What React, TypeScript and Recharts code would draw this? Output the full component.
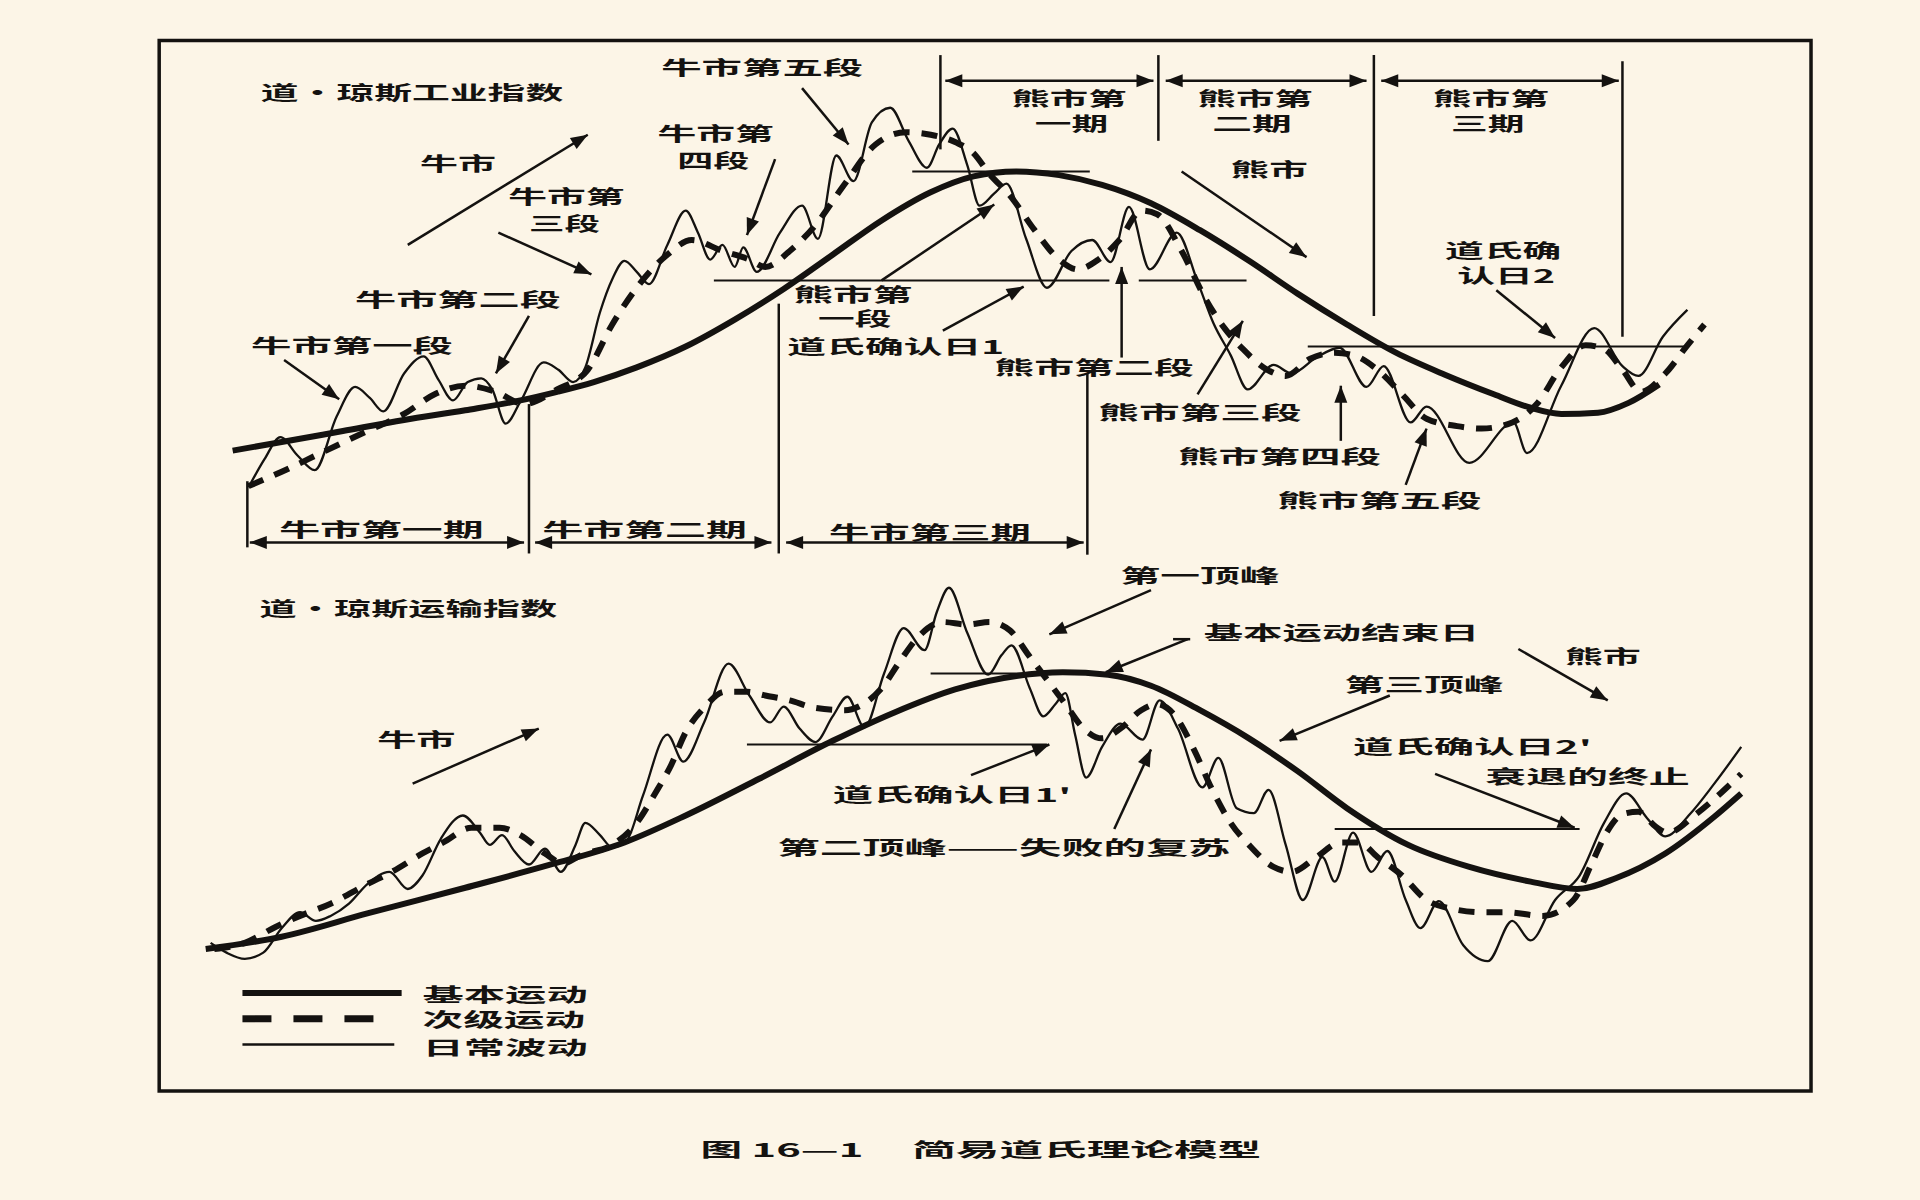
import React from "react";
import {
  ComposedChart,
  Line,
  XAxis,
  YAxis,
  ReferenceLine,
  ReferenceArea,
  ReferenceDot,
} from "recharts";

// time (t) and index level (p), in picture units
const industrialPrimary = [
  [190, 612], [230, 619], [280, 628], [330, 637], [380, 645], [425, 653],
  [455, 660], [485, 668], [520, 680], [560, 697], [600, 719], [640, 744],
  [680, 772], [720, 800], [760, 823], [795, 836], [830, 840], [865, 837],
  [900, 829], [940, 814], [980, 792], [1020, 767], [1060, 740], [1100, 715],
  [1140, 692], [1180, 674], [1220, 658], [1250, 647], [1275, 642],
  [1305, 643], [1330, 651], [1355, 666],
];

const industrialSecondary = [
  [203, 583], [235, 597], [262, 610], [300, 628], [330, 642], [355, 658],
  [380, 665], [405, 660], [428, 650], [455, 662], [480, 678], [500, 715],
  [520, 745], [545, 772], [565, 784], [590, 775], [612, 768], [625, 762],
  [645, 775], [665, 795], [690, 830], [715, 862], [740, 872], [760, 870],
  [780, 864], [795, 855], [808, 838], [825, 820], [845, 792], [865, 768],
  [880, 760], [897, 768], [915, 785], [932, 808], [945, 805], [965, 775],
  [985, 735], [1000, 712], [1015, 695], [1035, 678], [1050, 673],
  [1070, 687], [1090, 692], [1105, 690], [1125, 678], [1145, 658],
  [1165, 638], [1190, 632], [1210, 630], [1235, 635], [1255, 650],
  [1275, 680], [1295, 698], [1310, 695], [1325, 678], [1340, 660],
  [1360, 675], [1378, 698], [1392, 715],
];

const industrialDaily = [
  [203, 582], [216, 605], [229, 623], [243, 608], [257, 596], [275, 640],
  [290, 664], [302, 655], [313, 644], [330, 675], [346, 689], [358, 670],
  [370, 653], [382, 668], [393, 671], [402, 662], [413, 634], [425, 652],
  [444, 684], [456, 678], [468, 668], [478, 680], [490, 725], [500, 752],
  [510, 767], [520, 758], [530, 748], [545, 780], [560, 808], [570, 790],
  [580, 768], [590, 780], [600, 762], [607, 778], [618, 758], [637, 790],
  [655, 812], [668, 785], [683, 853], [697, 832], [712, 880], [727, 892],
  [742, 865], [757, 843], [767, 862], [778, 875], [790, 845], [800, 812],
  [812, 822], [822, 830], [838, 785], [855, 745], [875, 775], [892, 784],
  [907, 766], [922, 811], [939, 760], [961, 790], [978, 750], [991, 716],
  [1005, 690], [1019, 662], [1040, 682], [1055, 675], [1075, 688],
  [1094, 696], [1116, 664], [1130, 681], [1152, 635], [1165, 648],
  [1200, 602], [1236, 635], [1247, 610], [1275, 665], [1302, 712],
  [1325, 681], [1338, 673], [1358, 705], [1378, 727],
];

const transportPrimary = [
  [168, 205], [230, 215], [300, 234], [380, 255], [450, 274], [510, 292],
  [560, 314], [620, 344], [680, 375], [730, 398], [780, 417], [830, 428],
  [868, 431], [905, 429], [940, 420], [980, 400], [1020, 377], [1060, 350],
  [1100, 320], [1150, 290], [1200, 272], [1250, 260], [1288, 254],
  [1320, 263], [1360, 283], [1400, 313], [1422, 332],
];

const transportSecondary = [
  [175, 205], [200, 210], [225, 223], [245, 232], [270, 242], [300, 258],
  [320, 268], [345, 283], [362, 292], [385, 304], [408, 304], [425, 298],
  [445, 283], [460, 275], [475, 282], [500, 290], [520, 308], [535, 332],
  [548, 355], [560, 382], [575, 402], [592, 415], [610, 415], [625, 412],
  [645, 408], [665, 402], [690, 400], [705, 405], [720, 418], [735, 440],
  [750, 460], [770, 472], [790, 470], [808, 472], [825, 465], [840, 445],
  [855, 425], [870, 405], [885, 385], [900, 377], [915, 385], [932, 400],
  [945, 405], [960, 395], [975, 368], [990, 335], [1005, 308], [1020, 290],
  [1040, 272], [1055, 268], [1075, 280], [1095, 292], [1110, 292],
  [1125, 280], [1145, 265], [1165, 245], [1190, 237], [1210, 235],
  [1230, 235], [1260, 232], [1285, 245], [1300, 275], [1312, 300],
  [1325, 315], [1338, 317], [1352, 305], [1362, 300], [1385, 315],
  [1405, 332], [1422, 348],
];

const transportDaily = [
  [172, 210], [185, 202], [200, 197], [215, 202], [230, 222], [245, 235],
  [258, 228], [270, 232], [285, 242], [300, 258], [318, 268], [333, 254],
  [345, 265], [360, 295], [378, 314], [392, 300], [400, 290], [410, 298],
  [420, 285], [432, 274], [445, 287], [458, 268], [470, 290], [478, 308],
  [490, 298], [500, 288], [512, 294], [525, 330], [545, 380], [558, 358],
  [575, 390], [595, 438], [612, 412], [629, 390], [640, 403], [653, 385],
  [666, 374], [680, 395], [692, 411], [706, 386], [722, 430], [738, 467],
  [755, 449], [765, 480], [775, 500], [790, 463], [807, 429], [818, 445],
  [826, 453], [841, 418], [852, 395], [862, 405], [870, 414], [878, 380],
  [887, 345], [900, 370], [915, 389], [933, 376], [947, 408], [962, 385],
  [982, 337], [995, 361], [1010, 320], [1024, 316], [1036, 335],
  [1050, 290], [1064, 245], [1080, 280], [1090, 260], [1105, 300],
  [1120, 268], [1133, 285], [1148, 245], [1160, 222], [1175, 244],
  [1195, 208], [1215, 195], [1235, 228], [1250, 212], [1270, 245],
  [1290, 265], [1310, 308], [1328, 332], [1345, 312], [1360, 297],
  [1380, 315], [1400, 340], [1422, 370],
];

// annotation geometry [t1, p1, t2, p2]
const pointerArrows = [
  [333, 780, 480, 870], [655, 908, 693, 862], [633, 850, 610, 788],
  [407, 790, 483, 756], [432, 722, 405, 675], [232, 686, 277, 654],
  [965, 840, 1067, 770], [720, 751, 812, 813], [770, 710, 836, 746],
  [916, 688, 916, 762], [978, 658, 1015, 718], [1095, 620, 1095, 665],
  [1148, 584, 1165, 630], [1222, 743, 1270, 704],
  [337, 340, 440, 385], [940, 498, 857, 462], [970, 458, 903, 431],
  [1240, 450, 1313, 408], [1135, 412, 1045, 375], [1172, 348, 1286, 304],
  [793, 347, 857, 372], [910, 303, 940, 368],
];

const spanArrows = [
  [772, 914, 942, 914], [952, 914, 1116, 914], [1128, 914, 1322, 914],
  [204, 537, 428, 537], [437, 537, 630, 537], [642, 537, 885, 537],
];

const dividers = [
  [768, 935, 768, 858], [946, 935, 946, 865], [1122, 935, 1122, 722],
  [1325, 930, 1325, 705], [202, 587, 202, 533], [432, 650, 432, 528],
  [636, 732, 636, 528], [888, 675, 888, 527], [958, 458, 972, 458],
];

const levelLines = [
  [745, 840, 890, 840], [583, 751, 906, 751], [930, 751, 1018, 751],
  [1068, 697, 1378, 697], [760, 430, 905, 430], [610, 372, 855, 372],
  [1090, 303, 1290, 303],
];

// label text, left t, p, width in picture units
const labels: [string, number, number, number][] = [
  ["道·琼斯工业指数", 213, 905, 247],
  ["牛市第五段", 540, 926, 165],
  ["牛市第", 537, 872, 95],
  ["四段", 553, 850, 59],
  ["牛市", 343, 847, 62],
  ["牛市第", 415, 820, 95],
  ["三段", 432, 798, 58],
  ["牛市第二段", 290, 736, 168],
  ["牛市第一段", 205, 699, 165],
  ["熊市第", 826, 900, 94],
  ["一期", 845, 880, 60],
  ["熊市第", 978, 900, 94],
  ["二期", 990, 880, 65],
  ["熊市第", 1170, 900, 95],
  ["三期", 1185, 880, 60],
  ["熊市", 1005, 842, 63],
  ["熊市第", 648, 740, 97],
  ["一段", 668, 721, 60],
  ["道氏确认日1", 643, 698, 177],
  ["熊市第二段", 812, 681, 163],
  ["熊市第三段", 897, 644, 166],
  ["熊市第四段", 962, 608, 166],
  ["熊市第五段", 1043, 572, 167],
  ["道氏确", 1180, 776, 95],
  ["认日2", 1190, 756, 80],
  ["牛市第一期", 228, 548, 167],
  ["牛市第二期", 443, 548, 167],
  ["牛市第三期", 677, 546, 165],
  ["道·琼斯运输指数", 212, 484, 243],
  ["牛市", 308, 377, 64],
  ["第一顶峰", 915, 511, 130],
  ["基本运动结束日", 983, 464, 225],
  ["熊市", 1278, 445, 62],
  ["第三顶峰", 1098, 422, 130],
  ["道氏确认日2'", 1105, 371, 195],
  ["衰退的终止", 1213, 347, 167],
  ["道氏确认日1'", 680, 332, 195],
  ["第二顶峰——失败的复苏", 635, 289, 370],
  ["基本运动", 345, 169, 135],
  ["次级运动", 345, 148, 133],
  ["日常波动", 345, 125, 135],
  ["图 16—1", 572, 42, 133],
  ["简易道氏理论模型", 745, 42, 285],
];

const INK = "#141210";
const W = 1920;
const H = 1200;
const K = W / 1568;

const toPts = (a: number[][]) => a.map(([t, p]) => ({ t, p }));

const arrowShape = (heads: number, width: number) => (props: any) => {
  const { x1, y1, x2, y2 } = props;
  const dx = x2 - x1;
  const dy = y2 - y1;
  const len = Math.sqrt(dx * dx + dy * dy) || 1;
  const ux = dx / len;
  const uy = dy / len;
  const hl = 17;
  const hw = 6.5;
  const head = (x: number, y: number, sx: number, sy: number) =>
    `${x},${y} ${x - sx * hl - sy * hw},${y - sy * hl + sx * hw} ${x - sx * hl + sy * hw},${y - sy * hl - sx * hw}`;
  return (
    <g>
      <line x1={x1} y1={y1} x2={x2} y2={y2} stroke={INK} strokeWidth={width} />
      {heads >= 1 && <polygon points={head(x2, y2, ux, uy)} fill={INK} />}
      {heads >= 2 && <polygon points={head(x1, y1, -ux, -uy)} fill={INK} />}
    </g>
  );
};

const seg = (s: number[]) => [
  { x: s[0], y: s[1] },
  { x: s[2], y: s[3] },
];

const App: React.FC = () => {
  const series = [
    { data: industrialPrimary, w: 6, dash: undefined },
    { data: industrialSecondary, w: 6, dash: "16 12" },
    { data: industrialDaily, w: 2.3, dash: undefined },
    { data: transportPrimary, w: 6, dash: undefined },
    { data: transportSecondary, w: 6, dash: "16 12" },
    { data: transportDaily, w: 2.3, dash: undefined },
  ];

  return (
    <div
      style={{
        position: "absolute",
        left: 0,
        top: 0,
        width: W,
        height: H,
        background: "#fcf5e7",
      }}
    >
      <ComposedChart width={W} height={H} margin={{ top: 0, right: 0, bottom: 0, left: 0 }}>
        <XAxis type="number" dataKey="t" domain={[0, 1568]} hide allowDataOverflow />
        <YAxis type="number" domain={[0, 980]} hide allowDataOverflow />

        <ReferenceArea
          x1={130}
          x2={1479}
          y1={89}
          y2={947}
          fill="none"
          stroke={INK}
          strokeWidth={3.5}
        />

        {levelLines.map((s, i) => (
          <ReferenceLine key={`lv-${i}`} segment={seg(s)} stroke={INK} strokeWidth={2} />
        ))}
        {dividers.map((s, i) => (
          <ReferenceLine key={`dv-${i}`} segment={seg(s)} stroke={INK} strokeWidth={2.5} />
        ))}
        {spanArrows.map((s, i) => (
          <ReferenceLine key={`sp-${i}`} segment={seg(s)} shape={arrowShape(2, 2.5)} />
        ))}
        {pointerArrows.map((s, i) => (
          <ReferenceLine key={`pa-${i}`} segment={seg(s)} shape={arrowShape(1, 2.5)} />
        ))}

        {series.map((s, i) => (
          <Line
            key={`s-${i}`}
            data={toPts(s.data)}
            dataKey="p"
            type="monotone"
            stroke={INK}
            strokeWidth={s.w}
            strokeDasharray={s.dash}
            dot={false}
            activeDot={false}
            isAnimationActive={false}
          />
        ))}

        {/* legend */}
        <ReferenceLine segment={seg([198, 169, 328, 169])} stroke={INK} strokeWidth={6} />
        <ReferenceLine
          segment={seg([198, 148, 312, 148])}
          stroke={INK}
          strokeWidth={7}
          strokeDasharray="29 22"
        />
        <ReferenceLine segment={seg([198, 127, 322, 127])} stroke={INK} strokeWidth={2.5} />

        {labels.map(([s, x, y, w], i) => (
          <ReferenceDot
            key={`lb-${i}`}
            x={x}
            y={y}
            shape={(pr: any) => (
              <text
                x={pr.cx}
                y={pr.cy}
                dominantBaseline="central"
                textLength={w * K}
                lengthAdjust="spacingAndGlyphs"
                fontFamily="'Noto Sans CJK SC', 'Noto Sans', sans-serif"
                fontWeight={700}
                fontSize={19}
                fill={INK}
              >
                {s}
              </text>
            )}
          />
        ))}
      </ComposedChart>
    </div>
  );
};

export default App;
